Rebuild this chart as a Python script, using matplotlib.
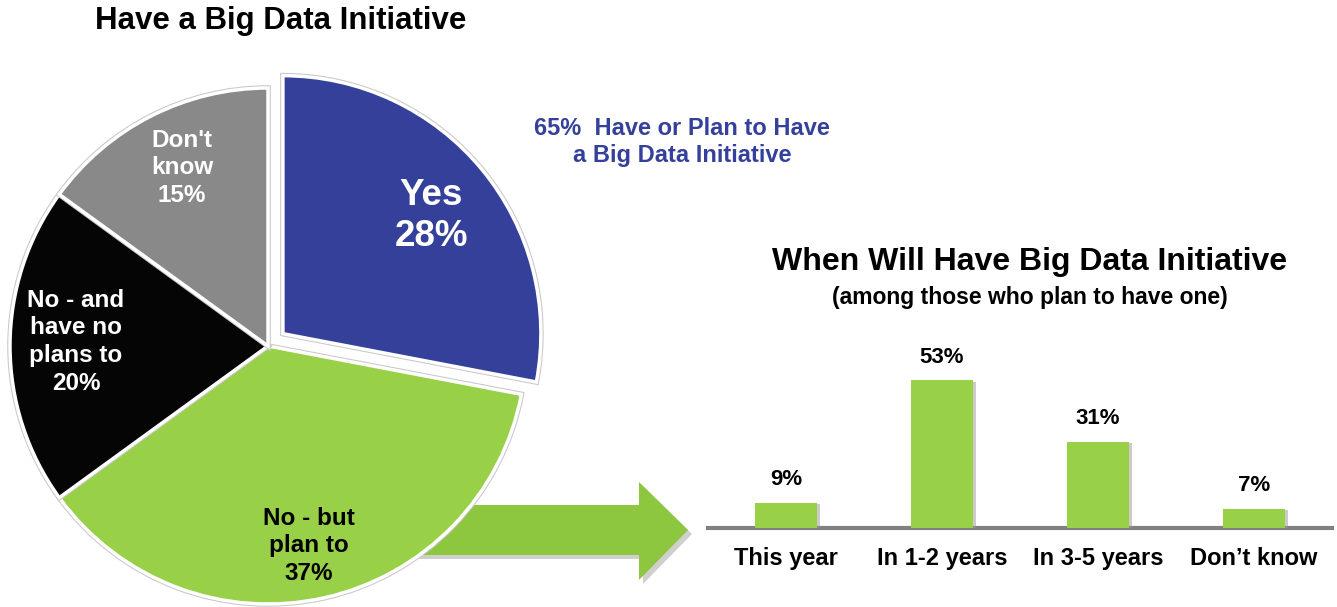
import matplotlib.pyplot as plt
import matplotlib.patheffects as pe
from matplotlib.patches import Polygon
import numpy as np

plt.rcParams['font.family'] = ['Liberation Sans', 'DejaVu Sans']
plt.rcParams['font.weight'] = 'bold'

# 数据
pie_labels = ['Yes\n28%', 'No - but\nplan to\n37%', 'No - and\nhave no\nplans to\n20%', "Don't\nknow\n15%"]
pie_values = [28, 37, 20, 15]
pie_colors = ['#35409A', '#98D147', '#050505', '#898989']

bar_cats = ['This year', 'In 1-2 years', 'In 3-5 years', 'Don\u2019t know']
bar_values = [9, 53, 31, 7]

W, H = 1337, 607
fig = plt.figure(figsize=(W / 100, H / 100), dpi=100)


def fx(x):
    return x / W


def fy(y):
    return 1 - y / H


# 绿色箭头（在饼图后面）
arrow_pts = [(400, 505), (639, 505), (639, 482), (688, 530), (639, 580), (639, 555), (400, 555)]
shadow = Polygon([(fx(x + 4), fy(y + 4)) for x, y in arrow_pts], closed=True,
                 transform=fig.transFigure, facecolor='#b0b0b0', edgecolor='none', alpha=0.6, zorder=-2)
arrow = Polygon([(fx(x), fy(y)) for x, y in arrow_pts], closed=True,
                transform=fig.transFigure, facecolor='#8DC63F', edgecolor='none', zorder=-1)
fig.patches.extend([shadow, arrow])

# 饼图
cx, cy, r = 268, 346, 258
lim = 1.2
size = 2 * lim * r
ax_pie = fig.add_axes([fx(cx - size / 2), (H - cy - size / 2) / H, size / W, size / H])
ax_pie.set_facecolor('none')
wedges, _ = ax_pie.pie(pie_values, colors=pie_colors, startangle=90, counterclock=False,
                       explode=[0.075, 0, 0, 0],
                       wedgeprops=dict(edgecolor='white', linewidth=2.5))
for w in wedges:
    w.set_path_effects([pe.Stroke(linewidth=4, foreground='#c8c8c8'), pe.Normal()])
ax_pie.set_xlim(-lim, lim)
ax_pie.set_ylim(-lim, lim)
ax_pie.set_aspect('equal')

ax_pie.text(0.632, 0.504, pie_labels[0], color='white', fontsize=26.5, ha='center', va='center',
            linespacing=1.22)
ax_pie.text(0.159, -0.775, pie_labels[1], color='black', fontsize=17.5, ha='center', va='center',
            linespacing=1.27)
ax_pie.text(-0.744, 0.016, pie_labels[2], color='white', fontsize=17.5, ha='center', va='center',
            linespacing=1.27)
ax_pie.text(-0.333, 0.69, pie_labels[3], color='white', fontsize=17.5, ha='center', va='center',
            linespacing=1.27)

fig.text(fx(281), fy(21), 'Have a Big Data Initiative', fontsize=22.5, ha='center', va='center')
fig.text(fx(682), fy(142), '65%  Have or Plan to Have\na Big Data Initiative', fontsize=17,
         color='#35409A', ha='center', va='center', linespacing=1.25)

# 柱状图
left, right = 708, 1332
base, top = 528, 361
ax_bar = fig.add_axes([fx(left), (H - base) / H, (right - left) / W, (base - top) / H])
x = np.arange(len(bar_cats))
bars = ax_bar.bar(x, bar_values, width=0.4, color='#98D147', zorder=3)
for b in bars:
    b.set_path_effects([pe.SimplePatchShadow(offset=(2, -1), shadow_rgbFace='#999999', alpha=0.5),
                        pe.Normal()])
ax_bar.set_xlim(-0.5, len(bar_cats) - 0.5)
ax_bar.set_ylim(0, 60)
for xi, v in zip(x, bar_values):
    ax_bar.text(xi, v + 4.5, f'{v}%', ha='center', va='bottom', fontsize=16)
ax_bar.set_xticks(x)
ax_bar.set_xticklabels(bar_cats, fontsize=17)
ax_bar.tick_params(axis='x', length=0, pad=14)
ax_bar.set_yticks([])
for s in ['top', 'left', 'right']:
    ax_bar.spines[s].set_visible(False)
ax_bar.spines['bottom'].set_color('#808080')
ax_bar.spines['bottom'].set_linewidth(3)
ax_bar.set_facecolor('none')

fig.text(fx(1030), fy(262), 'When Will Have Big Data Initiative', fontsize=23, ha='center', va='center')
fig.text(fx(1030), fy(297), '(among those who plan to have one)', fontsize=16.5, ha='center', va='center')

fig.savefig('out.png', dpi=100, facecolor='white')
